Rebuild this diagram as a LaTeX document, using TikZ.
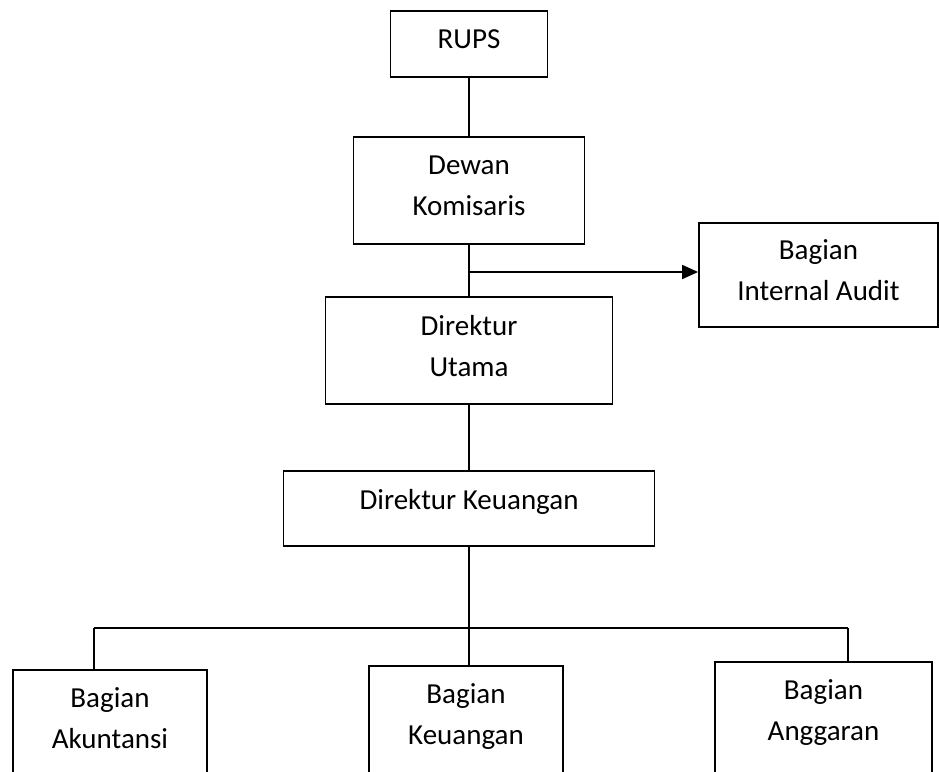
\documentclass[tikz,border=0pt]{standalone}
\usepackage{fontspec}
\setmainfont{Carlito}
\usepackage{tikz}
\usetikzlibrary{arrows.meta}

\begin{document}
\begin{tikzpicture}[
    x=1pt, y=-1pt,
    box/.style={
        rectangle,
        draw,
        line width=1.8pt,
        align=center,
        text depth=10pt,
        font=\fontsize{29}{41}\selectfont
    },
    unit/.style={
        box,
        anchor=north,
        inner ysep=18pt,
        text height=61pt,
        text depth=60pt
    },
    line/.style={line width=1.8pt},
    arrow/.style={-{Triangle[length=16pt,width=14pt]}, line width=1.8pt}
]

\clip (0,0) rectangle (939,771);

\node[box, minimum width=157pt, minimum height=66pt] (rups) at (469,44) {RUPS};
\node[box, minimum width=231pt, minimum height=107pt] (dewan) at (469,190.5) {Dewan\\Komisaris};
\node[box, minimum width=239pt, minimum height=104pt] (audit) at (818.5,275) {Bagian\\Internal Audit};
\node[box, minimum width=287pt, minimum height=107pt] (utama) at (469,350.5) {Direktur\\Utama};
\node[box, minimum width=371pt, minimum height=75pt, text depth=18pt] (dk) at (469,508.5) {Direktur Keuangan};

\node[unit, minimum width=194pt] (akt) at (110,669) {Bagian\\Akuntansi};
\node[unit, minimum width=194pt] (keu) at (466,665) {Bagian\\Keuangan};
\node[unit, minimum width=217pt] (agr) at (823.5,661) {Bagian\\Anggaran};

\coordinate (tap) at (469,272);
\coordinate (bus) at (469,628);
\coordinate (busl) at (94,628);
\coordinate (busr) at (848,628);

\draw[line] (rups) -- (dewan);
\draw[line] (dewan) -- (utama);
\draw[arrow] (tap) -- (tap -| audit.west);
\draw[line] (utama) -- (dk);
\draw[line] (dk) -- (bus);
\draw[line] (busl) -- (busr);
\draw[line] (busl) -- (busl |- akt.north);
\draw[line] (bus) -- (bus |- keu.north);
\draw[line] (busr) -- (busr |- agr.north);

\end{tikzpicture}
\end{document}
